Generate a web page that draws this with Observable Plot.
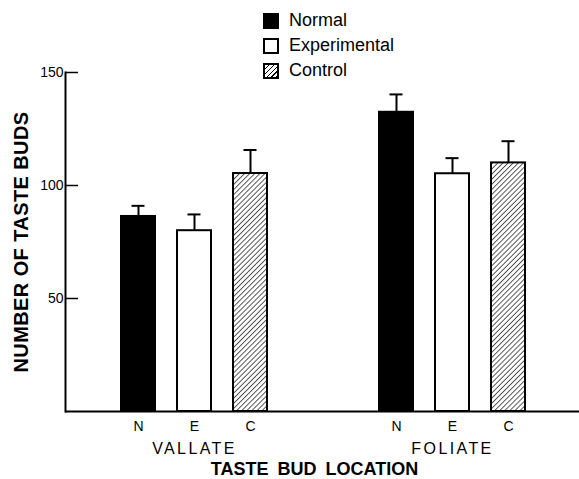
<!DOCTYPE html>
<html><head><meta charset="utf-8">
<script src="https://cdn.jsdelivr.net/npm/d3@7"></script>
<script src="https://cdn.jsdelivr.net/npm/@observablehq/plot@0.6"></script>
<style>
body{margin:0;background:#fff;}
#chart{position:relative;width:579px;height:479px;}
#legend{position:absolute;left:263px;top:8px;font-family:"Liberation Sans",Arial,sans-serif;font-size:18px;color:#000;}
.item{display:flex;align-items:center;height:25px;}
.sw{width:12px;height:12px;border:2px solid #000;margin-right:10px;}
g[aria-label="x-axis tick label"], g[aria-label="x-axis tick label"] text{font-size:14px;}
g[aria-label="fx-axis tick label"], g[aria-label="fx-axis tick label"] text{font-size:16px;letter-spacing:2.4px;}
g[aria-label="y-axis tick label"], g[aria-label="y-axis tick label"] text{font-size:14px;font-weight:normal;}
g[aria-label="y-axis label"], g[aria-label="y-axis label"] text{font-size:20px;font-weight:bold;letter-spacing:0.4px;}
.xtitle text{word-spacing:4px;}
</style></head><body>
<div id="chart"><div id="legend"></div></div>
<script>
const locations = ["VALLATE", "FOLIATE"];
const treatments = ["N", "E", "C"];
const seriesNames = ["Normal", "Experimental", "Control"];
const vallateMeans = [86.3, 80, 105.3];
const vallateSE = [4.7, 7.2, 10.4];
const foliateMeans = [132.4, 105.2, 110];
const foliateSE = [7.9, 6.9, 9.6];
const yTicks = [50, 100, 150];
const xTitle = "TASTE BUD LOCATION";
const yTitle = "NUMBER OF TASTE BUDS";
const fills = ["black", "white", "url(#hatch)"];

const data = [];
locations.forEach((loc, li) => {
  const means = li === 0 ? vallateMeans : foliateMeans;
  const se = li === 0 ? vallateSE : foliateSE;
  treatments.forEach((t, i) => {
    data.push({loc, trt: t, series: seriesNames[i], mean: means[i], top: means[i] + se[i]});
  });
});

const defs = () => {
  const d = d3.create("svg:defs");
  const p = d.append("pattern").attr("id", "hatch").attr("patternUnits", "userSpaceOnUse")
    .attr("width", 3.6).attr("height", 3.6).attr("patternTransform", "rotate(45)");
  p.append("rect").attr("width", 3.6).attr("height", 3.6).attr("fill", "white");
  p.append("line").attr("x1", 0).attr("y1", 0).attr("x2", 0).attr("y2", 3.6)
    .attr("stroke", "black").attr("stroke-width", 1.3);
  return d.node();
};

const chart = Plot.plot({
  width: 579,
  height: 479,
  marginLeft: 65,
  marginRight: 14,
  marginTop: 72,
  marginBottom: 68,
  style: {fontFamily: "Liberation Sans, Arial, sans-serif", color: "black", background: "white"},
  fx: {domain: locations, range: [65, 581], paddingInner: 0, paddingOuter: 0},
  x: {domain: treatments, paddingInner: 0.4, paddingOuter: 0.974},
  y: {domain: [0, 150]},
  color: {domain: seriesNames, range: fills},
  marks: [
    defs,
    Plot.barY(data, {fx: "loc", x: "trt", y: "mean", fill: "series", stroke: "black", strokeWidth: 2}),
    Plot.ruleX(data, {fx: "loc", x: "trt", y1: "mean", y2: "top", stroke: "black", strokeWidth: 2}),
    Plot.tickY(data, {fx: "loc", x: "trt", y: "top", stroke: "black", strokeWidth: 2, inset: 10.5}),
    Plot.ruleY([0], {stroke: "black", strokeWidth: 2}),
    Plot.frame({anchor: "left", facetAnchor: "left", stroke: "black", strokeWidth: 2}),
    Plot.axisY({ticks: yTicks, tickSize: -13, tickPadding: 15, strokeWidth: 1.5, fontSize: 14,
      label: yTitle, labelAnchor: "center", labelArrow: "none", labelOffset: 52}),
    Plot.axisX({tickSize: 0, tickPadding: 10, fontSize: 14, label: null}),
    Plot.axisFx({anchor: "bottom", tickSize: 0, tickPadding: 31, fontSize: 16, label: null}),
    Plot.text([xTitle], {facet: "super", frameAnchor: "bottom", lineAnchor: "bottom", dy: 63, dx: -9,
      fontSize: 18, fontWeight: "bold", className: "xtitle"})
  ]
});
document.getElementById("chart").prepend(chart);

const legend = document.getElementById("legend");
seriesNames.forEach((name, i) => {
  const item = document.createElement("div");
  item.className = "item";
  const sw = document.createElement("div");
  sw.className = "sw";
  sw.style.background = i === 0 ? "black" : i === 1 ? "white"
    : "repeating-linear-gradient(135deg, #fff 0 2.2px, #000 2.2px 3.5px)";
  const label = document.createElement("span");
  label.textContent = name;
  item.append(sw, label);
  legend.append(item);
});
</script>
</body></html>
